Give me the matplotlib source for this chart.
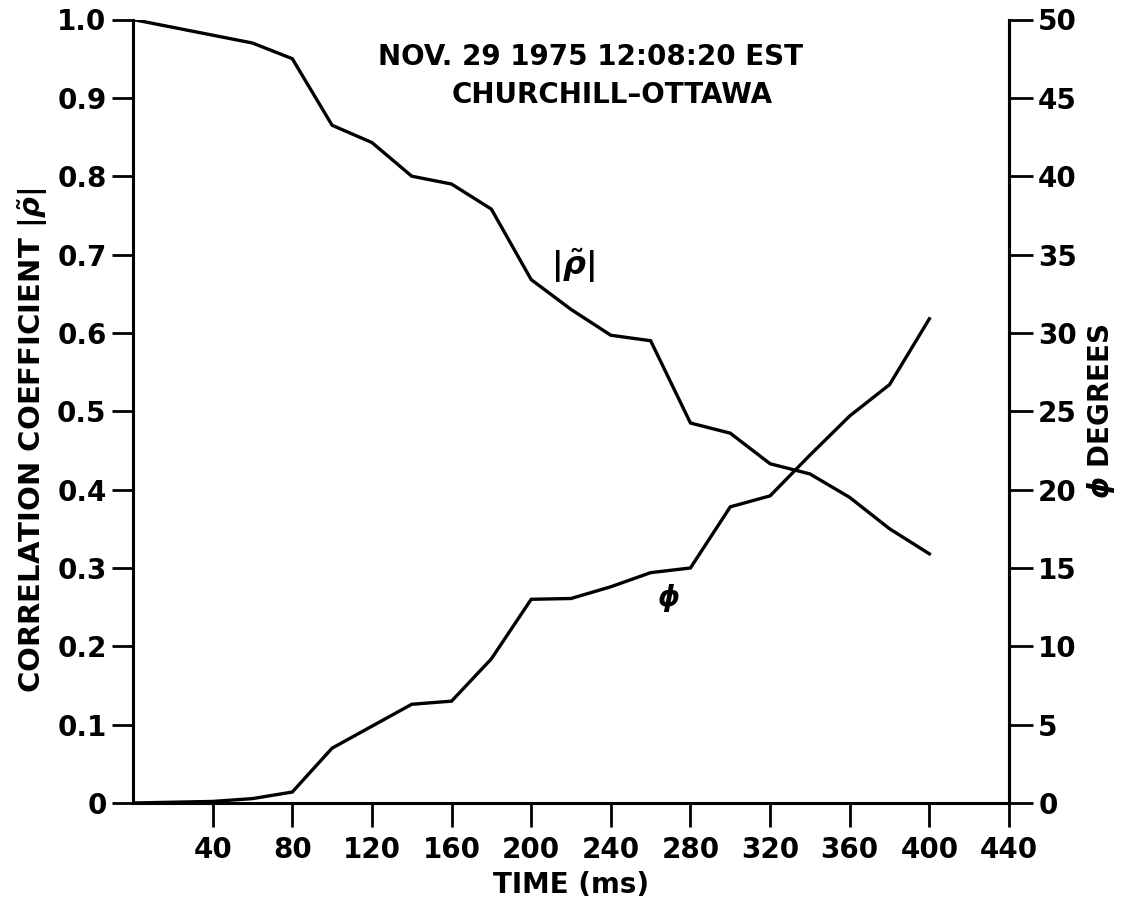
import matplotlib
matplotlib.use("Agg")
import matplotlib.pyplot as plt

# ---- data ----
time_ms = [0, 20, 40, 60, 80, 100, 120, 140, 160, 180, 200, 220, 240, 260, 280,
           300, 320, 340, 360, 380, 400]
rho = [1.0, 0.99, 0.98, 0.97, 0.95, 0.865, 0.843, 0.80, 0.79, 0.758, 0.668, 0.63,
       0.597, 0.59, 0.485, 0.472, 0.433, 0.42, 0.39, 0.35, 0.318]
phi_deg = [0.0, 0.05, 0.1, 0.28, 0.7, 3.5, 4.9, 6.3, 6.5, 9.2, 13.0, 13.05, 13.8,
           14.7, 15.0, 18.9, 19.6, 22.2, 24.7, 26.7, 30.9]

x_ticks = [40, 80, 120, 160, 200, 240, 280, 320, 360, 400, 440]
left_ticks = [0, 0.1, 0.2, 0.3, 0.4, 0.5, 0.6, 0.7, 0.8, 0.9, 1.0]
left_labels = ["0", "0.1", "0.2", "0.3", "0.4", "0.5", "0.6", "0.7", "0.8", "0.9", "1.0"]
right_ticks = [0, 5, 10, 15, 20, 25, 30, 35, 40, 45, 50]

title1 = "NOV. 29 1975 12:08:20 EST"
title2 = "CHURCHILL\u2013OTTAWA"

plt.rcParams['font.family'] = ['DejaVu Sans']
plt.rcParams['font.weight'] = 'bold'
plt.rcParams['mathtext.fontset'] = 'custom'
plt.rcParams['mathtext.rm'] = 'DejaVu Sans:bold'
plt.rcParams['mathtext.it'] = 'DejaVu Sans:bold:italic'
plt.rcParams['mathtext.bf'] = 'DejaVu Sans:bold'

FS = 20
LW = 2.4

fig = plt.figure(figsize=(11.34, 9.06), dpi=100)
ax = fig.add_axes([133 / 1134, 1 - 803 / 906, (1009 - 133) / 1134, (803 - 19.5) / 906])
ax2 = ax.twinx()

ax.plot(time_ms, rho, color='black', lw=LW, solid_joinstyle='miter')
ax2.plot(time_ms, phi_deg, color='black', lw=LW, solid_joinstyle='miter')

ax.set_xlim(0, 440)
ax.set_ylim(0, 1.0)
ax2.set_ylim(0, 50)

for a in (ax, ax2):
    a.spines['top'].set_visible(False)
    for s in a.spines.values():
        s.set_linewidth(2.2)
ax2.spines['left'].set_visible(False)
ax2.spines['bottom'].set_visible(False)

ax.set_xticks(x_ticks)
ax.set_xticklabels([str(t) for t in x_ticks], fontsize=FS, fontweight='bold')
ax.set_yticks(left_ticks)
ax.set_yticklabels(left_labels, fontsize=FS, fontweight='bold')
ax2.set_yticks(right_ticks)
ax2.set_yticklabels([str(t) for t in right_ticks], fontsize=FS, fontweight='bold')

ax.tick_params(axis='x', direction='out', length=17, width=2.0, pad=7)
ax.tick_params(axis='y', direction='out', length=15, width=2.0, pad=4)
ax2.tick_params(axis='y', direction='out', length=17, width=2.0, pad=4)

ax.set_xlabel("TIME (ms)", fontsize=FS, fontweight='bold', labelpad=5)
ax.set_ylabel(r"CORRELATION COEFFICIENT $|\tilde{\rho}|$", fontsize=21,
              fontweight='bold')
ax.yaxis.set_label_coords(-(133 - 50) / 876, (803 - 440) / 783.5)
ax2.set_ylabel(r"$\phi$ DEGREES", fontsize=FS, fontweight='bold', labelpad=6, rotation=90)

ax.text(221, 0.685, r"$|\tilde{\rho}|$", fontsize=FS + 3, ha='center', va='center')
ax.text(269, 0.262, r"$\phi$", fontsize=FS, ha='center', va='center')

ax.text((590 - 133) / 876, 1 - (57 - 19.5) / 783.5, title1, transform=ax.transAxes,
        fontsize=FS, fontweight='bold', ha='center', va='center')
ax.text((612 - 133) / 876, 1 - (95 - 19.5) / 783.5, title2, transform=ax.transAxes,
        fontsize=FS, fontweight='bold', ha='center', va='center')

fig.savefig("out.png", dpi=100)
